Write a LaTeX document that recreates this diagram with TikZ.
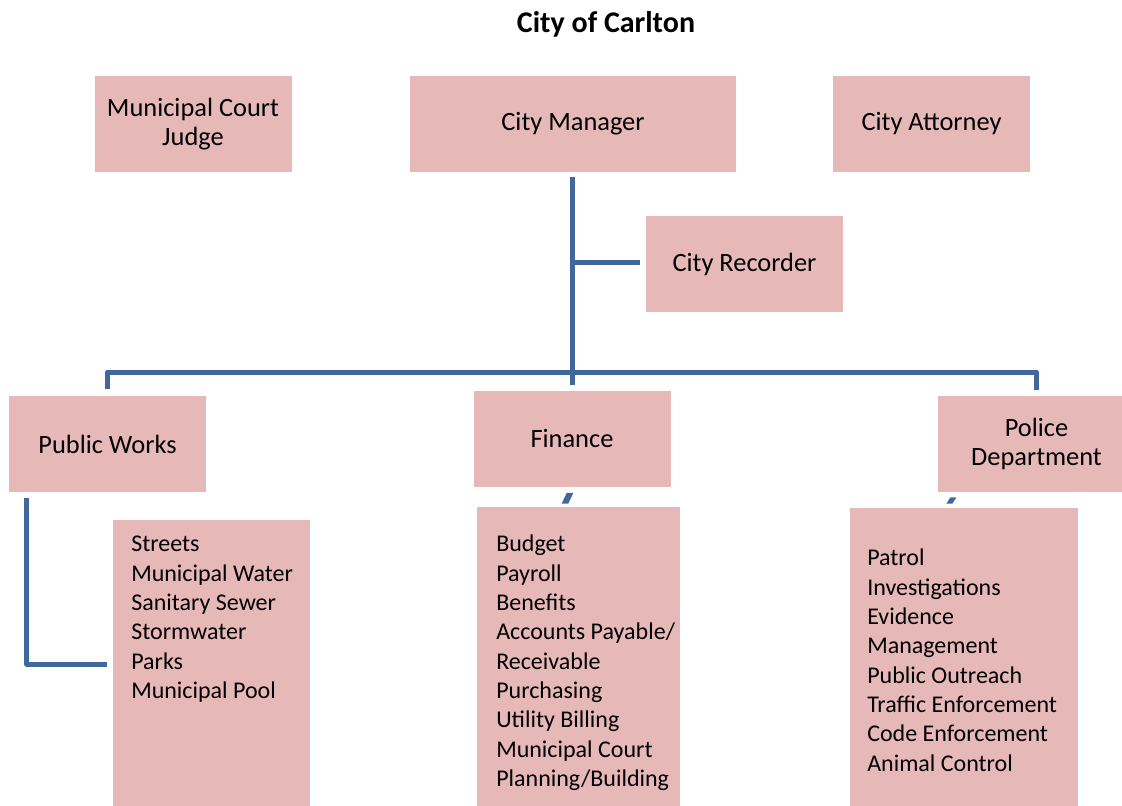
\documentclass[tikz,border=0pt]{standalone}
\usepackage{fontspec}
\setmainfont{Carlito}
\usetikzlibrary{calc}
\definecolor{boxpink}{HTML}{E6B9B8}
\definecolor{linkblue}{HTML}{41689C}

\begin{document}
\begin{tikzpicture}[
  x=0.75pt, y=-0.75pt,
  box/.style={fill=boxpink, draw=none, inner sep=2pt, minimum width=147.75pt, minimum height=72pt, align=center, font=\fontsize{19.8}{22}\selectfont},
  listbox/.style={fill=boxpink, draw=none, anchor=north west, minimum height=240pt},
  listtext/.style={anchor=north west, inner sep=0pt, align=left, font=\fontsize{18}{22}\selectfont},
  conn/.style={draw=linkblue, line width=3.75pt, line join=round}
]
\useasboundingbox (0,0) rectangle (1122,806);
\clip (0,0) rectangle (1122,806);

\node[font=\bfseries\fontsize{22.5}{27}\selectfont] (title) at (606,24) {City of Carlton};

\node[box] (judge) at (193,124)    {Municipal Court\\Judge};
\node[box, minimum width=244.5pt] (mgr) at (573,124) {City Manager};
\node[box] (atty)  at (931.5,124)  {City Attorney};
\node[box] (rec)   at (744.5,264)  {City Recorder};
\node[box] (pw)    at (107.5,444)  {Public Works};
\node[box] (fin)   at (572,439)    {Finance};
\node[box] (pol)   at (1036.5,444) {Police\\Department};

\node[listbox, minimum width=147.75pt] (pwlist)  at (113,520) {};
\node[listbox, minimum width=152.25pt] (finlist) at (477,507) {};
\node[listbox, minimum width=171pt]    (pollist) at (850,508) {};

\node[listtext] (pwitems)  at (131,536) {Streets\\Municipal Water\\Sanitary Sewer\\Stormwater\\Parks\\Municipal Pool};
\node[listtext] (finitems) at (496,535) {Budget\\Payroll\\Benefits\\Accounts Payable/\\Receivable\\Purchasing\\Utility Billing\\Municipal Court\\Planning/Building};
\node[listtext] (politems) at (867,549) {Patrol\\Investigations\\Evidence\\Management\\Public Outreach\\Traffic Enforcement\\Code Enforcement\\Animal Control};

\coordinate (bar) at (572,372);
\draw[conn] ($(mgr.south -| fin.north)+(0,5)$) -- ($(fin.north)+(0,-6)$);
\draw[conn] ($(rec.west)+(-6,-1)$) -- ($(rec.west -| fin.north)+(0,-1)$);
\draw[conn] ($(pw.north)+(0,-7)$) |- (bar) -| ($(pol.north)+(0,-6)$);
\draw[conn] ($(pw.south west)+(18,6)$) |- ($(pwlist.north west)+(-6,144)$);
\fill[linkblue] ($(fin.south)+(-5.3,5.7)$) -- ++(6.6,0) -- ++(-5,10.6) -- ++(-6.6,0) -- cycle;
\fill[linkblue] ($(pol.south west)+(12.7,5)$) -- ++(6,0) -- ++(-4,6.3) -- ++(-6,0) -- cycle;
\end{tikzpicture}
\end{document}
